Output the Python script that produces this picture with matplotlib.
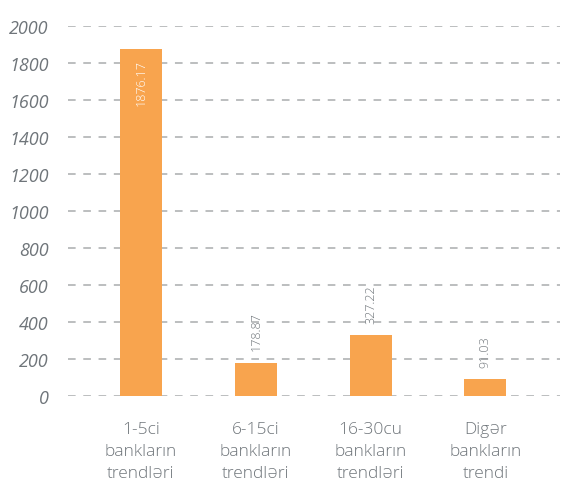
import numpy as np
import matplotlib.pyplot as plt

categories = ['1-5ci\nbankların\ntrendləri', '6-15ci\nbankların\ntrendləri',
              '16-30cu\nbankların\ntrendləri', 'Digər\nbankların\ntrendi']
values = [1876.17, 178.87, 327.22, 91.03]
yticks = [0, 200, 400, 600, 800, 1000, 1200, 1400, 1600, 1800, 2000]

bar_color = '#f8a44e'
text_color = '#6f757a'

plt.rcParams['font.family'] = ['Open Sans', 'DejaVu Sans']

fig = plt.figure(figsize=(5.65, 4.85), dpi=100)
ax = fig.add_axes([68 / 565, 1 - 397 / 485, (560 - 68) / 565, 370 / 485])

x = np.arange(len(categories))
ax.bar(x, values, width=0.365, color=bar_color, zorder=2)

for xi, v in zip(x, values):
    label = f'{v:.2f}'
    if v > 1000:
        ax.annotate(label, (xi, v), xytext=(0, -7), textcoords='offset points',
                    rotation=90, ha='center', va='top', color='white',
                    fontsize=9, fontweight='light')
    else:
        ax.annotate(label, (xi, v), xytext=(0, 9), textcoords='offset points',
                    rotation=90, ha='center', va='bottom', color=text_color,
                    fontsize=9, fontweight='light')

ax.set_xlim(-0.635, 3.65)
ax.set_ylim(0, 2000)
ax.set_yticks(yticks)
ax.set_yticklabels([str(t) for t in yticks], fontsize=13, style='italic',
                   color=text_color)
ax.set_xticks(x)
ax.set_xticklabels(categories, fontsize=12.5, color=text_color,
                   fontweight='light', linespacing=1.5)
ax.tick_params(axis='both', length=0)
ax.tick_params(axis='y', pad=14)
ax.tick_params(axis='x', pad=18)

ax.grid(axis='y', linestyle=(0, (5, 5)), color='#a9acae', linewidth=1.1, zorder=0)
for s in ax.spines.values():
    s.set_visible(False)

fig.savefig('out.png', dpi=100)
